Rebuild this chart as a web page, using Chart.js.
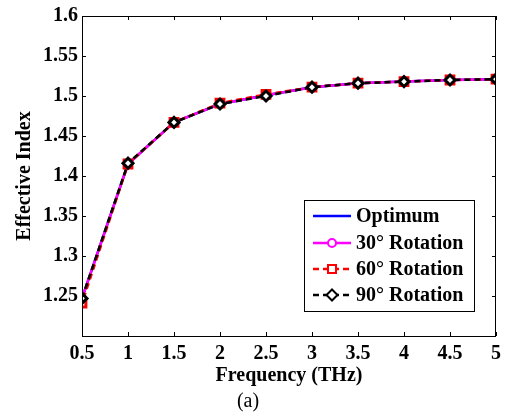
<!DOCTYPE html>
<html>
<head>
<meta charset="utf-8">
<script src="https://cdn.jsdelivr.net/npm/chart.js@4/dist/chart.umd.min.js"></script>
<style>
  html, body { margin: 0; padding: 0; background: #fff; }
  #wrap { width: 511px; height: 416px; }
</style>
</head>
<body>
<div id="wrap"><canvas id="c" width="511" height="416"></canvas></div>
<script>
// ---- data ----
const frequency = [0.5, 1, 1.5, 2, 2.5, 3, 3.5, 4, 4.5, 5];
const optimum   = [1.247, 1.415, 1.467, 1.490, 1.501, 1.511, 1.516, 1.518, 1.520, 1.521];
const rot30     = [1.247, 1.415, 1.467, 1.490, 1.501, 1.511, 1.516, 1.518, 1.520, 1.521];
const rot60     = [1.241, 1.415, 1.467, 1.491, 1.502, 1.511, 1.516, 1.518, 1.520, 1.521];
const rot90     = [1.247, 1.416, 1.467, 1.490, 1.500, 1.511, 1.516, 1.518, 1.520, 1.521];
const xTicks = [0.5, 1, 1.5, 2, 2.5, 3, 3.5, 4, 4.5, 5];
const yTicks = [1.2, 1.25, 1.3, 1.35, 1.4, 1.45, 1.5, 1.55, 1.6];
const seriesLabels = ['Optimum', '30\u00B0 Rotation', '60\u00B0 Rotation', '90\u00B0 Rotation'];

const FONT = "'Liberation Serif', 'Times New Roman', serif";
const pts = arr => frequency.map((f, i) => ({ x: f, y: arr[i] }));

const datasets = [
  { label: seriesLabels[0], data: pts(optimum), borderColor: '#0000ff', backgroundColor: '#0000ff',
    borderWidth: 2.5, pointRadius: 0, pointStyle: false, mk: null, order: 3 },
  { label: seriesLabels[1], data: pts(rot30), borderColor: '#ff00ff', backgroundColor: '#ffffff',
    borderWidth: 2.5, pointRadius: 4, pointBorderWidth: 2, pointStyle: 'circle', mk: 'circle', order: 2 },
  { label: seriesLabels[2], data: pts(rot60), borderColor: '#ff0000', backgroundColor: '#ffffff',
    borderWidth: 2.5, borderDash: [6, 4], borderDashOffset: 5, pointRadius: 5.5, pointBorderWidth: 3,
    pointStyle: 'rect', mk: 'rect', order: 1 },
  { label: seriesLabels[3], data: pts(rot90), borderColor: '#000000', backgroundColor: '#ffffff',
    borderWidth: 2.5, borderDash: [6, 4], pointRadius: 5, pointBorderWidth: 3,
    pointStyle: 'rectRot', mk: 'rectRot', order: 0 }
];
datasets.forEach(d => { d.showLine = true; d.tension = 0; d.pointHoverRadius = d.pointRadius; });

function drawMarker(ctx, kind, x, y, color) {
  if (!kind) return;
  ctx.save();
  ctx.setLineDash([]);
  ctx.strokeStyle = color; ctx.fillStyle = '#fff'; ctx.lineWidth = 2;
  ctx.beginPath();
  if (kind === 'circle') ctx.arc(x, y, 4, 0, Math.PI * 2);
  else if (kind === 'rect') ctx.rect(x - 4, y - 4, 8, 8);
  else if (kind === 'rectRot') { ctx.moveTo(x, y - 5.5); ctx.lineTo(x + 5.5, y); ctx.lineTo(x, y + 5.5); ctx.lineTo(x - 5.5, y); ctx.closePath(); }
  ctx.fill(); ctx.stroke();
  ctx.restore();
}

const framePlugin = {
  id: 'frame',
  afterDatasetsDraw(chart) {
    const { ctx, chartArea: a, scales } = chart;
    ctx.save();
    ctx.strokeStyle = '#000'; ctx.lineWidth = 1; ctx.setLineDash([]);
    ctx.strokeRect(a.left + 0.5, a.top + 0.5, a.right - a.left - 1, a.bottom - a.top);
    const L = 4;
    ctx.beginPath();
    xTicks.forEach(v => {
      const px = Math.round(scales.x.getPixelForValue(v)) + 0.5;
      ctx.moveTo(px, a.bottom); ctx.lineTo(px, a.bottom - L);
      ctx.moveTo(px, a.top); ctx.lineTo(px, a.top + L);
    });
    yTicks.forEach(v => {
      const py = Math.round(scales.y.getPixelForValue(v)) + 0.5;
      ctx.moveTo(a.left, py); ctx.lineTo(a.left + L, py);
      ctx.moveTo(a.right, py); ctx.lineTo(a.right - L, py);
    });
    ctx.stroke();

    // legend box
    const bx = 304, by = 200, bw = 170, bh = 111;
    ctx.fillStyle = '#fff';
    ctx.fillRect(bx, by, bw, bh);
    ctx.strokeRect(bx + 0.5, by + 0.5, bw, bh);
    const rowY = [216, 243, 269, 295];
    chart.data.datasets.forEach((d, i) => {
      const y = rowY[i];
      ctx.save();
      ctx.strokeStyle = d.borderColor; ctx.lineWidth = d.borderWidth;
      ctx.setLineDash(d.borderDash || []);
      ctx.beginPath(); ctx.moveTo(313, y); ctx.lineTo(351, y); ctx.stroke();
      ctx.restore();
      drawMarker(ctx, d.mk, 332, y, d.borderColor);
      ctx.fillStyle = '#000';
      ctx.font = 'bold 20px ' + FONT;
      ctx.textBaseline = 'middle'; ctx.textAlign = 'left';
      ctx.fillText(d.label, 356, y + 1);
    });
    ctx.restore();
  }
};

new Chart(document.getElementById('c'), {
  type: 'scatter',
  data: { datasets },
  plugins: [framePlugin],
  options: {
    responsive: false,
    animation: false,
    devicePixelRatio: 1,
    layout: { padding: { top: 15, right: 15, left: 0, bottom: 0 } },
    plugins: {
      legend: { display: false },
      tooltip: { enabled: false },
      title: { display: true, position: 'bottom', text: '(a)', color: '#000',
               font: { family: FONT, size: 20, weight: 'normal', lineHeight: 1.2 },
               padding: { top: 0, bottom: 2 } }
    },
    scales: {
      x: {
        type: 'linear', min: 0.5, max: 5,
        afterBuildTicks: s => { s.ticks = xTicks.map(v => ({ value: v })); },
        afterFit: s => { s.height = 54; },
        grid: { display: false, drawTicks: false },
        border: { display: false },
        ticks: { color: '#000', padding: 6, maxRotation: 0, autoSkip: false,
                 font: { family: FONT, size: 20, weight: 'bold' },
                 callback: v => String(v) },
        title: { display: true, text: 'Frequency (THz)', color: '#000',
                 font: { family: FONT, size: 20, weight: 'bold', lineHeight: 1.2 },
                 padding: { top: 0, bottom: 2 } }
      },
      y: {
        type: 'linear', min: 1.2, max: 1.6,
        afterBuildTicks: s => { s.ticks = yTicks.map(v => ({ value: v })); },
        afterFit: s => { s.width = 82; },
        grid: { display: false, drawTicks: false },
        border: { display: false },
        ticks: { color: '#000', padding: 4, autoSkip: false,
                 font: { family: FONT, size: 20, weight: 'bold' },
                 callback: v => (Math.abs(v - 1.2) < 1e-9 ? '' : String(Math.round(v * 100) / 100)) },
        title: { display: true, text: 'Effective Index', color: '#000',
                 font: { family: FONT, size: 20, weight: 'bold', lineHeight: 1.2 },
                 padding: { top: 13, bottom: 0 } }
      }
    }
  }
});
</script>
</body>
</html>
